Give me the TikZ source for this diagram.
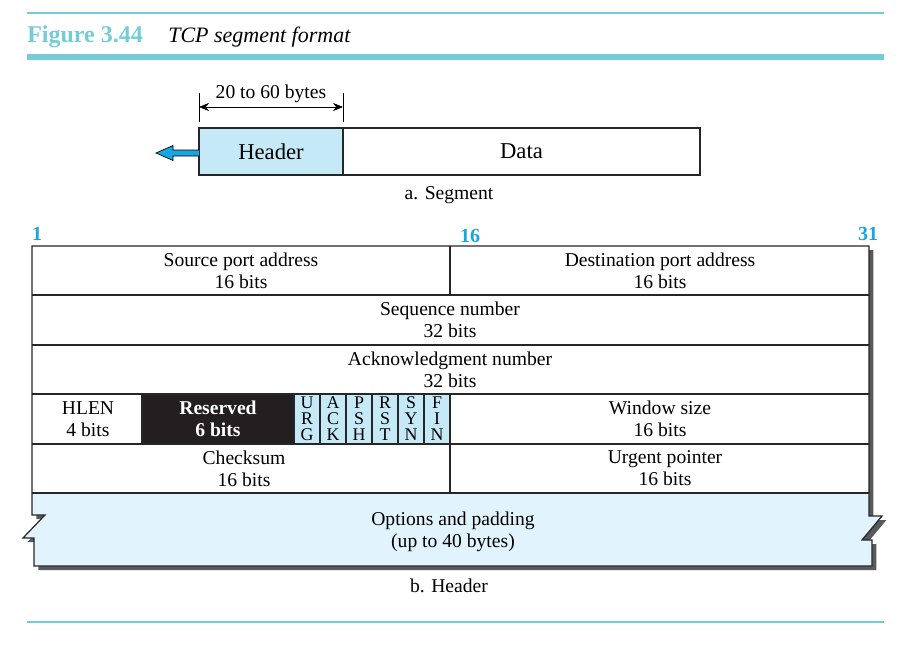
\documentclass[tikz,border=0pt]{standalone}
\usepackage{fontspec}
\setmainfont{Liberation Serif}
\usetikzlibrary{arrows.meta}

\definecolor{figteal}{RGB}{116,204,214}
\definecolor{hdrblue}{RGB}{198,233,248}
\definecolor{optblue}{RGB}{225,243,253}
\definecolor{numblue}{RGB}{27,165,224}
\definecolor{arrblue}{RGB}{27,165,222}
\definecolor{rsvblack}{RGB}{35,31,32}
\definecolor{shadowgray}{RGB}{88,89,91}

\tikzset{
  txt/.style={align=center, inner sep=0pt, font=\fontsize{14.7}{16.5}\selectfont},
  segtxt/.style={inner sep=0pt, font=\fontsize{17}{19}\selectfont},
  bitnum/.style={anchor=base, inner sep=0pt, text=numblue, font=\fontsize{15}{17}\selectfont\bfseries},
  flag/.style={anchor=base, inner sep=0pt, font=\fontsize{13.4}{12}\selectfont},
  cell/.style={line width=0.9pt, draw=black!85}
}

\begin{document}
\begin{tikzpicture}[x=0.75pt,y=-0.75pt]
  \useasboundingbox (0,0) rectangle (902,657);

  % title
  \draw[figteal, line width=1.1pt] (27,13) -- (884,13);
  \node[anchor=base west, inner sep=0pt, text=figteal, font=\fontsize{18}{20}\selectfont\bfseries] (fignum) at (27,42.5) {Figure 3.44};
  \node[anchor=base west, inner sep=0pt, font=\fontsize{16.5}{19}\selectfont\itshape] (figtitle) at (168,42.5) {TCP segment format};
  \draw[figteal, line width=3.8pt] (27,57) -- (884,57);

  % a. segment
  \draw[cell, fill=hdrblue] (199,128) rectangle (343,175);
  \draw[cell] (343,128) rectangle (700,175);
  \node[segtxt] (header) at (271,151.5) {Header};
  \node[segtxt] (data) at (521.5,151.5) {Data};
  \draw[line width=0.5pt, fill=arrblue] (199,150) -- (173,150) -- (173,145.5) -- (156,153)
    -- (173,160.5) -- (173,156) -- (199,156);
  \draw (199,93) -- (199,122);
  \draw (343,93) -- (343,122);
  \coordinate (dimL) at (199,107);
  \coordinate (dimR) at (343,107);
  \draw[{Stealth[length=7.5pt,width=6pt]}-{Stealth[length=7.5pt,width=6pt]}] (dimL) -- (dimR);
  \node[txt, anchor=base] (bytes) at (271,98) {20 to 60 bytes};
  \node[txt] (capa) at (449,195) {a. Segment};

  % b. header
  \node[bitnum] (b1) at (37,240) {1};
  \node[bitnum] (b16) at (470,242.5) {16};
  \node[bitnum] (b31) at (868,240) {31};

  \fill[shadowgray, xshift=3.3pt, yshift=-3pt] (32,246) -- (869,246) -- (869,516) -- (882,516)
    -- (862,540) -- (872,540) -- (872,566) -- (34,566) -- (34,538) -- (23,538) -- (45,515)
    -- (32,515) -- cycle;
  \fill[white] (32,246) rectangle (869,493);
  \fill[optblue] (32,493) -- (869,493) -- (869,516) -- (882,516) -- (862,540) -- (872,540)
    -- (872,566) -- (34,566) -- (34,538) -- (23,538) -- (45,515) -- (32,515) -- cycle;
  \fill[rsvblack] (142,394) rectangle (294,444);
  \draw[cell] (32,246) -- (869,246) -- (869,516) -- (882,516) -- (862,540) -- (872,540)
    -- (872,566) -- (34,566) -- (34,538) -- (23,538) -- (45,515) -- (32,515) -- cycle;
  \foreach \y in {295,345,394,444,493}
    \draw[cell] (32,\y) -- (869,\y);
  \draw[cell] (450,246) -- (450,295);
  \draw[cell] (450,394) -- (450,493);
  \draw[cell] (142,394) -- (142,444);

  \node[txt] (src) at (241,270.5) {Source port address\\16 bits};
  \node[txt] (dst) at (660,270.5) {Destination port address\\16 bits};
  \node[txt] (seq) at (450,320) {Sequence number\\32 bits};
  \node[txt] (ack) at (450,369.5) {Acknowledgment number\\32 bits};
  \node[txt] (hlen) at (88,419) {HLEN\\4 bits};
  \node[txt, text=white, font=\fontsize{14.7}{16.5}\selectfont\bfseries] (rsv) at (218,419) {Reserved\\6 bits};
  \foreach \a/\b/\c [count=\i from 0] in {U/R/G,A/C/K,P/S/H,R/S/T,S/Y/N,F/I/N} {
    \draw[cell, fill=hdrblue] ({294+26*\i},394) rectangle ++(26,50);
    \node[flag] (flagA\i) at ({307+26*\i},408) {\a};
    \node[flag] (flagB\i) at ({307+26*\i},424) {\b};
    \node[flag] (flagC\i) at ({307+26*\i},440) {\c};
  }
  \node[txt] (win) at (660,419) {Window size\\16 bits};
  \node[txt] (chk) at (244,468.5) {Checksum\\16 bits};
  \node[txt] (urg) at (665,468.5) {Urgent pointer\\16 bits};
  \node[txt] (opt) at (453,532) {Options and padding\\(up to 40 bytes)};
  \node[txt] (capb) at (449,586) {b. Header};

  \draw[figteal, line width=1.5pt] (27,622) -- (884,622);
\end{tikzpicture}
\end{document}
